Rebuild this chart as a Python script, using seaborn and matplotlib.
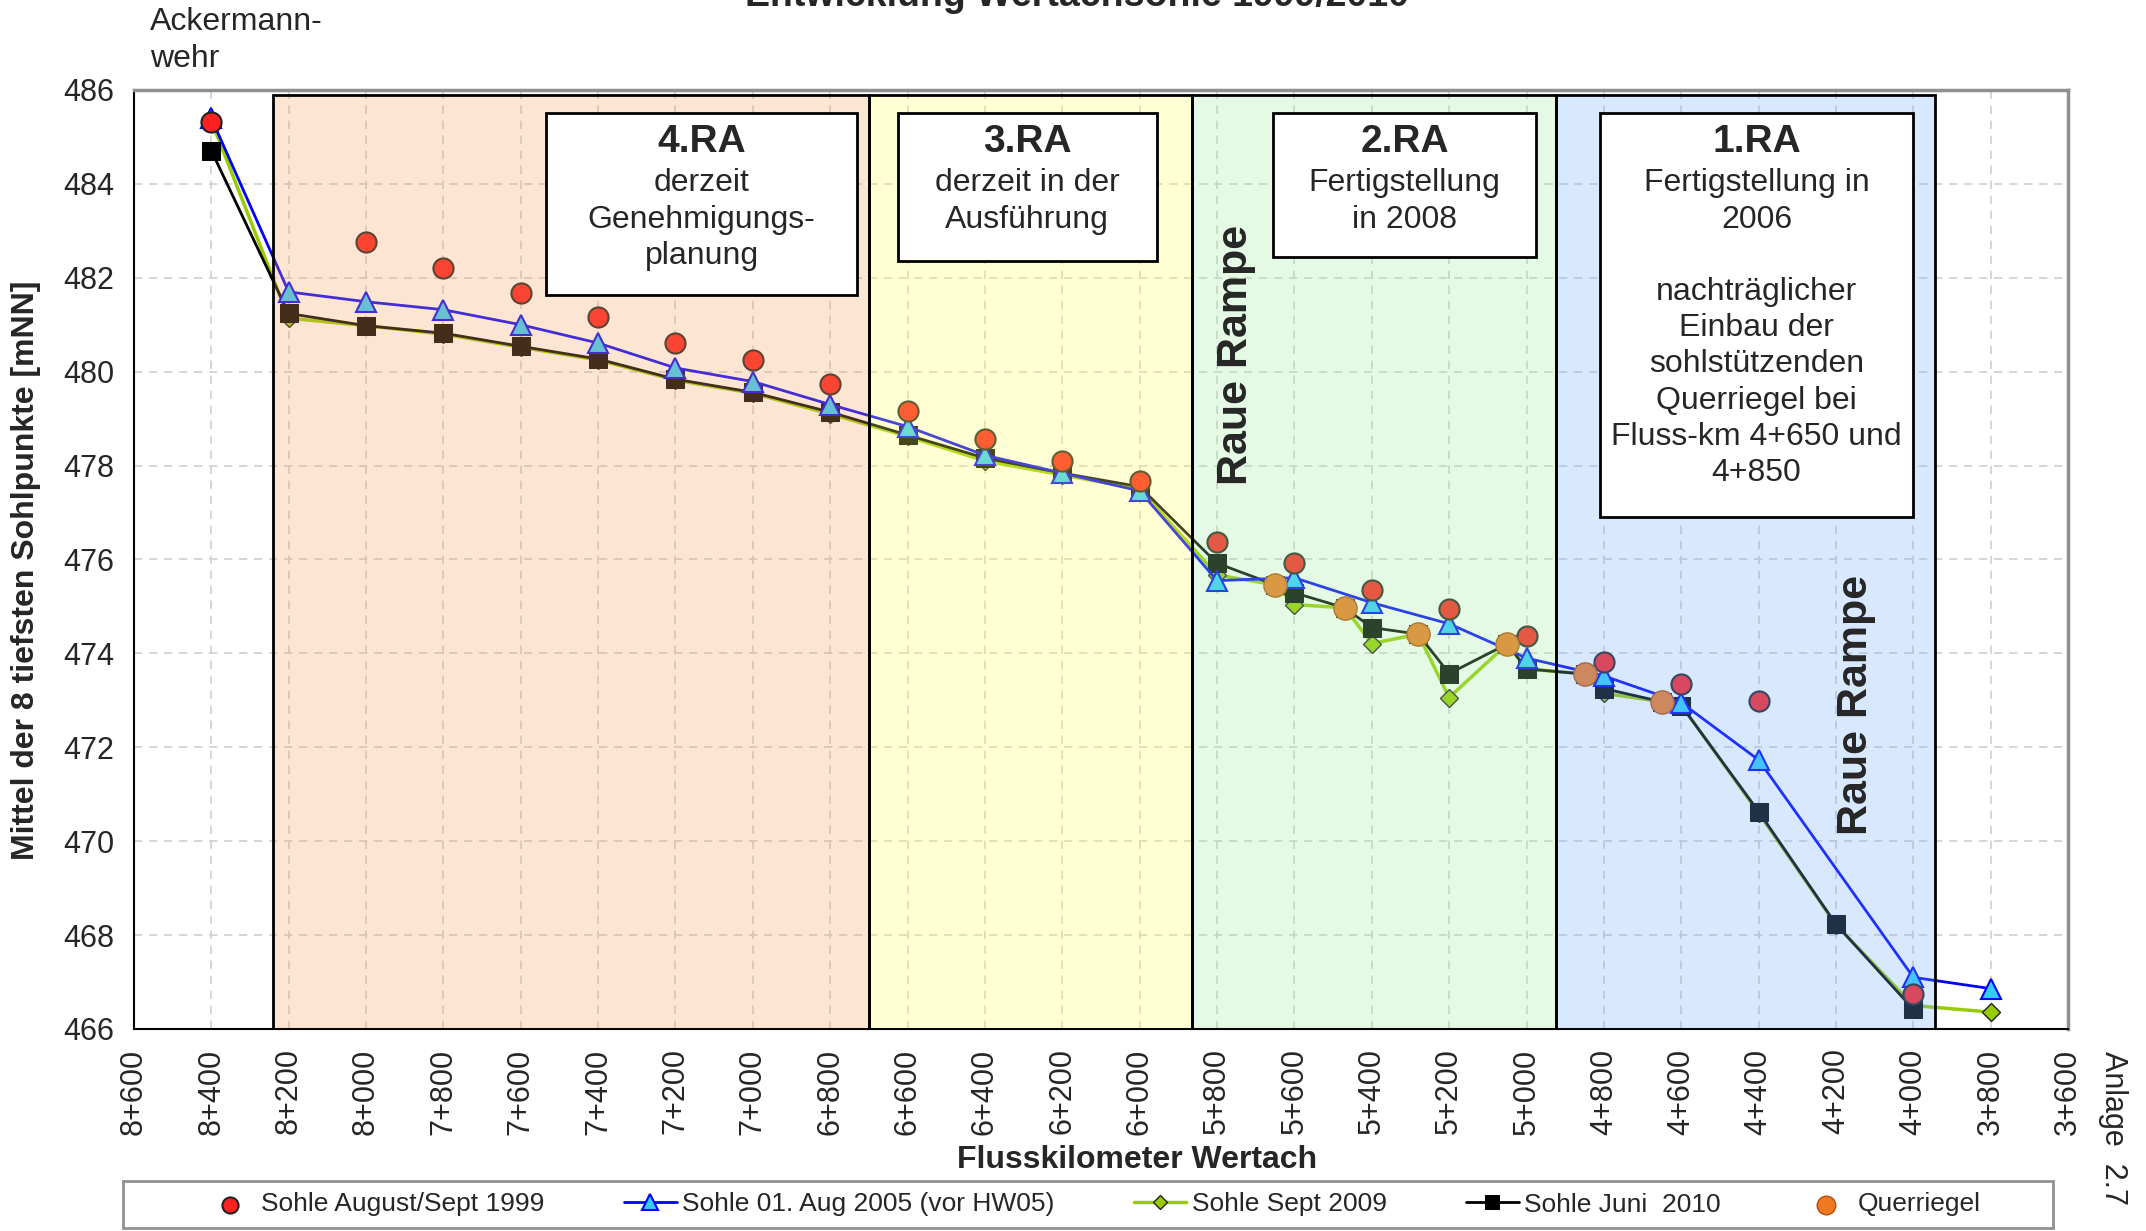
import matplotlib
matplotlib.use("Agg")
import matplotlib.pyplot as plt
from matplotlib.patches import Rectangle
import seaborn as sns

# Flusskilometer (km) und Sohlhoehen (mNN)
km_1999 = [8.4, 8.0, 7.8, 7.6, 7.4, 7.2, 7.0, 6.8, 6.6, 6.4, 6.2, 6.0,
           5.8, 5.6, 5.4, 5.2, 5.0, 4.8, 4.6, 4.4, 4.0]
sohle_1999 = [485.31, 482.77, 482.21, 481.67, 481.16, 480.62, 480.25, 479.74,
              479.17, 478.57, 478.09, 477.67, 476.37, 475.93, 475.34, 474.94,
              474.37, 473.81, 473.35, 472.99, 466.74]

km_2005 = [8.4, 8.2, 8.0, 7.8, 7.6, 7.4, 7.2, 7.0, 6.8, 6.6, 6.4, 6.2, 6.0,
           5.8, 5.6, 5.4, 5.2, 5.0, 4.8, 4.6, 4.4, 4.0, 3.8]
sohle_2005 = [485.40, 481.70, 481.49, 481.32, 481.00, 480.61, 480.08, 479.79,
              479.30, 478.83, 478.22, 477.84, 477.46, 475.55, 475.61, 475.08,
              474.63, 473.90, 473.52, 472.95, 471.73, 467.10, 466.86]

km_2009 = [8.4, 8.2, 8.0, 7.8, 7.6, 7.4, 7.2, 7.0, 6.8, 6.6, 6.4, 6.2, 6.0,
           5.8, 5.65, 5.6, 5.47, 5.4, 5.28, 5.2, 5.05, 5.0, 4.85, 4.8, 4.65,
           4.6, 4.4, 4.2, 4.0, 3.8]
sohle_2009 = [485.35, 481.14, 480.98, 480.80, 480.52, 480.25, 479.82, 479.54,
              479.10, 478.62, 478.10, 477.80, 477.50, 475.67, 475.46, 475.04,
              474.97, 474.21, 474.41, 473.06, 474.20, 473.67, 473.56, 473.15,
              472.97, 472.90, 470.60, 468.22, 466.50, 466.36]

km_2010 = [8.4, 8.2, 8.0, 7.8, 7.6, 7.4, 7.2, 7.0, 6.8, 6.6, 6.4, 6.2, 6.0,
           5.8, 5.65, 5.6, 5.47, 5.4, 5.28, 5.2, 5.05, 5.0, 4.85, 4.8, 4.65,
           4.6, 4.4, 4.2, 4.0]
sohle_2010 = [484.71, 481.24, 480.98, 480.82, 480.54, 480.27, 479.84, 479.56,
              479.14, 478.65, 478.16, 477.84, 477.55, 475.92, 475.46, 475.29,
              474.97, 474.55, 474.41, 473.57, 474.20, 473.67, 473.56, 473.25,
              472.97, 472.89, 470.63, 468.23, 466.42]

km_querriegel = [5.65, 5.47, 5.28, 5.05, 4.85, 4.65]
hoehe_querriegel = [475.46, 474.97, 474.41, 474.20, 473.56, 472.97]

# Achsbeschriftung
x_ticks = [8.6, 8.4, 8.2, 8.0, 7.8, 7.6, 7.4, 7.2, 7.0, 6.8, 6.6, 6.4, 6.2,
           6.0, 5.8, 5.6, 5.4, 5.2, 5.0, 4.8, 4.6, 4.4, 4.2, 4.0, 3.8, 3.6]
x_labels = ["8+600", "8+400", "8+200", "8+000", "7+800", "7+600", "7+400",
            "7+200", "7+000", "6+800", "6+600", "6+400", "6+200", "6+000",
            "5+800", "5+600", "5+400", "5+200", "5+000", "4+800", "4+600",
            "4+400", "4+200", "4+000", "3+800", "3+600"]
y_ticks = [466, 468, 470, 472, 474, 476, 478, 480, 482, 484, 486]

# Bauabschnitte (Raue Rampen): von km, bis km, Farbe
abschnitt_von = [8.24, 6.70, 5.865, 4.925]
abschnitt_bis = [6.70, 5.865, 4.925, 3.945]
abschnitt_farbe = ["#F5A562", "#FFFF62", "#9EEE9E", "#73B2FF"]

sns.set_style("white")
plt.rcParams["font.family"] = ["Liberation Sans", "DejaVu Sans"]

fig = plt.figure(figsize=(21.46, 12.31), dpi=100)
ax = fig.add_axes([0.0624, 0.1641, 0.9013, 0.7628])

sns.scatterplot(x=km_1999, y=sohle_1999, ax=ax, color="#FF2020", marker="o",
                s=210, edgecolor="#202020", linewidth=1.5,
                label="Sohle August/Sept 1999", zorder=6)
sns.lineplot(x=km_2005, y=sohle_2005, ax=ax, color="#0000FF", linewidth=2,
             marker="^", markersize=14, markerfacecolor="#33CCFF",
             markeredgecolor="#0000FF", markeredgewidth=1.5,
             label="Sohle 01. Aug 2005 (vor HW05)", errorbar=None, zorder=4)
sns.lineplot(x=km_2009, y=sohle_2009, ax=ax, color="#99CC00", linewidth=2.5,
             marker="D", markersize=9, markerfacecolor="#99CC00",
             markeredgecolor="#202020", markeredgewidth=1,
             label="Sohle Sept 2009", errorbar=None, zorder=3)
sns.lineplot(x=km_2010, y=sohle_2010, ax=ax, color="#000000", linewidth=2,
             marker="s", markersize=13, markerfacecolor="#000000",
             markeredgecolor="#000000",
             label="Sohle Juni  2010", errorbar=None, zorder=3)
sns.scatterplot(x=km_querriegel, y=hoehe_querriegel, ax=ax, color="#F07820",
                marker="o", s=280, edgecolor="#B05010", linewidth=1,
                label="Querriegel", zorder=7)

# farbige Bauabschnitte (leicht deckend ueber den Daten)
for von, bis, farbe in zip(abschnitt_von, abschnitt_bis, abschnitt_farbe):
    ax.add_patch(Rectangle((von, 466), bis - von, 485.9 - 466, facecolor=farbe,
                           alpha=0.28, edgecolor="none", zorder=8))
    ax.add_patch(Rectangle((von, 466), bis - von, 485.9 - 466, facecolor="none",
                           edgecolor="black", linewidth=2, zorder=9))

ax.set_xlim(8.6, 3.6)
ax.set_ylim(466, 486)
ax.set_xticks(x_ticks)
ax.set_xticklabels(x_labels, rotation=90, fontsize=22)
ax.set_yticks(y_ticks)
ax.set_yticklabels([str(v) for v in y_ticks], fontsize=22)
ax.tick_params(axis="both", direction="out", length=8, width=1.5,
               color="black", pad=6)
ax.grid(True, color="#D0D0D0", linestyle=(0, (5, 4)), linewidth=1.2)
ax.set_axisbelow(True)
for side in ["top", "right"]:
    ax.spines[side].set_color("#909090")
    ax.spines[side].set_linewidth(2.5)
for side in ["left", "bottom"]:
    ax.spines[side].set_color("black")
    ax.spines[side].set_linewidth(1.5)

ax.set_xlabel("Flusskilometer Wertach", fontsize=23, fontweight="bold")
ax.xaxis.set_label_coords(0.5186, -0.124)
ax.set_ylabel("Mittel der 8 tiefsten Sohlpunkte [mNN]", fontsize=23,
              fontweight="bold")
ax.yaxis.set_label_coords(-0.048, 0.488)

# Textkaesten
kaesten = [
    (7.534, 6.731, 481.63, "4.RA", "derzeit\nGenehmigungs-\nplanung"),
    (6.625, 5.956, 482.36, "3.RA", "derzeit in der\nAusführung"),
    (5.655, 4.975, 482.45, "2.RA", "Fertigstellung\nin 2008"),
    (4.809, 4.002, 476.90, "1.RA",
     "Fertigstellung in\n2006\n\nnachträglicher\nEinbau der\nsohlstützenden\n"
     "Querriegel bei\nFluss-km 4+650 und\n4+850"),
]
for x0, x1, y0, kopf, text in kaesten:
    ax.add_patch(Rectangle((x0, y0), x1 - x0, 485.5 - y0, facecolor="white",
                           edgecolor="black", linewidth=2, zorder=10))
    xm = (x0 + x1) / 2
    ax.text(xm, 484.89, kopf, ha="center", va="center", fontsize=28,
            fontweight="bold", zorder=11)
    ax.text(xm, 484.33, text, ha="center", va="top", fontsize=23,
            linespacing=1.27, zorder=11)

ax.text(5.75, 480.35, "Raue Rampe", rotation=90, ha="center", va="center",
        fontsize=31, fontweight="bold", zorder=11)
ax.text(4.147, 472.9, "Raue Rampe", rotation=90, ha="center", va="center",
        fontsize=31, fontweight="bold", zorder=11)

fig.text(150 / 2146, 1 - 22 / 1231, "Ackermann-", fontsize=23, va="center")
fig.text(150 / 2146, 1 - 59 / 1231, "wehr", fontsize=23, va="center")
fig.text(1077 / 2146, 1 - 6 / 1231, "Entwicklung Wertachsohle 1999/2010",
         fontsize=27, fontweight="bold", ha="center", va="baseline")
fig.text(2113 / 2146, 1 - 1128 / 1231, "Anlage  2.7", fontsize=22,
         rotation=-90, ha="center", va="center")

# Legende mit eigenem Rahmen
fig.patches.append(Rectangle((123 / 2146, 3 / 1231), 1930 / 2146, 47 / 1231,
                             transform=fig.transFigure, facecolor="white",
                             edgecolor="#909090", linewidth=2))
handles, labels = ax.get_legend_handles_labels()
ax.get_legend().remove()
fig.legend(handles, labels, loc="center", ncol=5,
           bbox_to_anchor=(1092 / 2146, 26.5 / 1231), fontsize=19,
           frameon=False, handlelength=2.0, handletextpad=0.2,
           columnspacing=3.0, markerscale=0.8)

fig.savefig("out.png", dpi=100)
